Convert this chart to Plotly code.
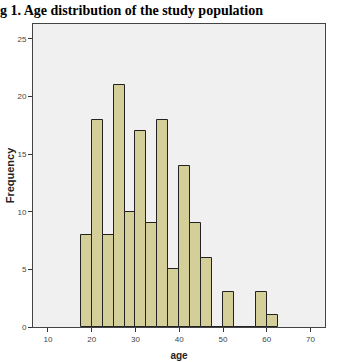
import plotly.graph_objects as go

bin_start = [17.5, 20, 22.5, 25, 27.5, 30, 32.5, 35, 37.5, 40, 42.5, 45, 47.5, 50, 52.5, 55, 57.5, 60]
counts = [8, 18, 8, 21, 10, 17, 9, 18, 5, 14, 9, 6, 0, 3, 0, 0, 3, 1]
bin_width = 2.5
x_ticks = [10, 20, 30, 40, 50, 60, 70]
y_ticks = [0, 5, 10, 15, 20, 25]

centers = [s + bin_width / 2 for s in bin_start]

fig = go.Figure(go.Bar(
    x=centers, y=counts, width=bin_width,
    marker=dict(color="#D4CF98", line=dict(color="#222222", width=1)),
))

fig.update_layout(
    width=339, height=362,
    margin=dict(l=33, r=14, t=24, b=35),
    paper_bgcolor="white", plot_bgcolor="#F0F0F0",
    showlegend=False,
    title=dict(text="<b>g 1. Age distribution of the study population</b>",
               x=0, xanchor="left", y=0.972, yanchor="middle",
               font=dict(family="Liberation Serif", size=14, color="black")),
    bargap=0,
)
fig.update_xaxes(range=[6.6, 73.3], tickvals=x_ticks, ticks="outside", ticklen=4,
                 tickcolor="#333", showgrid=False, zeroline=False, automargin=False,
                 showline=True, linecolor="#444", linewidth=1, mirror=True,
                 tickfont=dict(family="Liberation Sans", size=8, color="#444"),
                 title=dict(text="<b>age</b>", standoff=9,
                            font=dict(family="Liberation Sans", size=10, color="#222")))
fig.update_yaxes(range=[0, 26.3], tickvals=y_ticks, ticks="outside", ticklen=4,
                 tickcolor="#333", showgrid=False, zeroline=False, automargin=False,
                 showline=True, linecolor="#444", linewidth=1, mirror=True,
                 tickfont=dict(family="Liberation Sans", size=8, color="#444"),
                 title=dict(text="<b>Frequency</b>", standoff=0,
                            font=dict(family="Liberation Sans", size=11, color="#222")))

fig.write_html("out.html")
